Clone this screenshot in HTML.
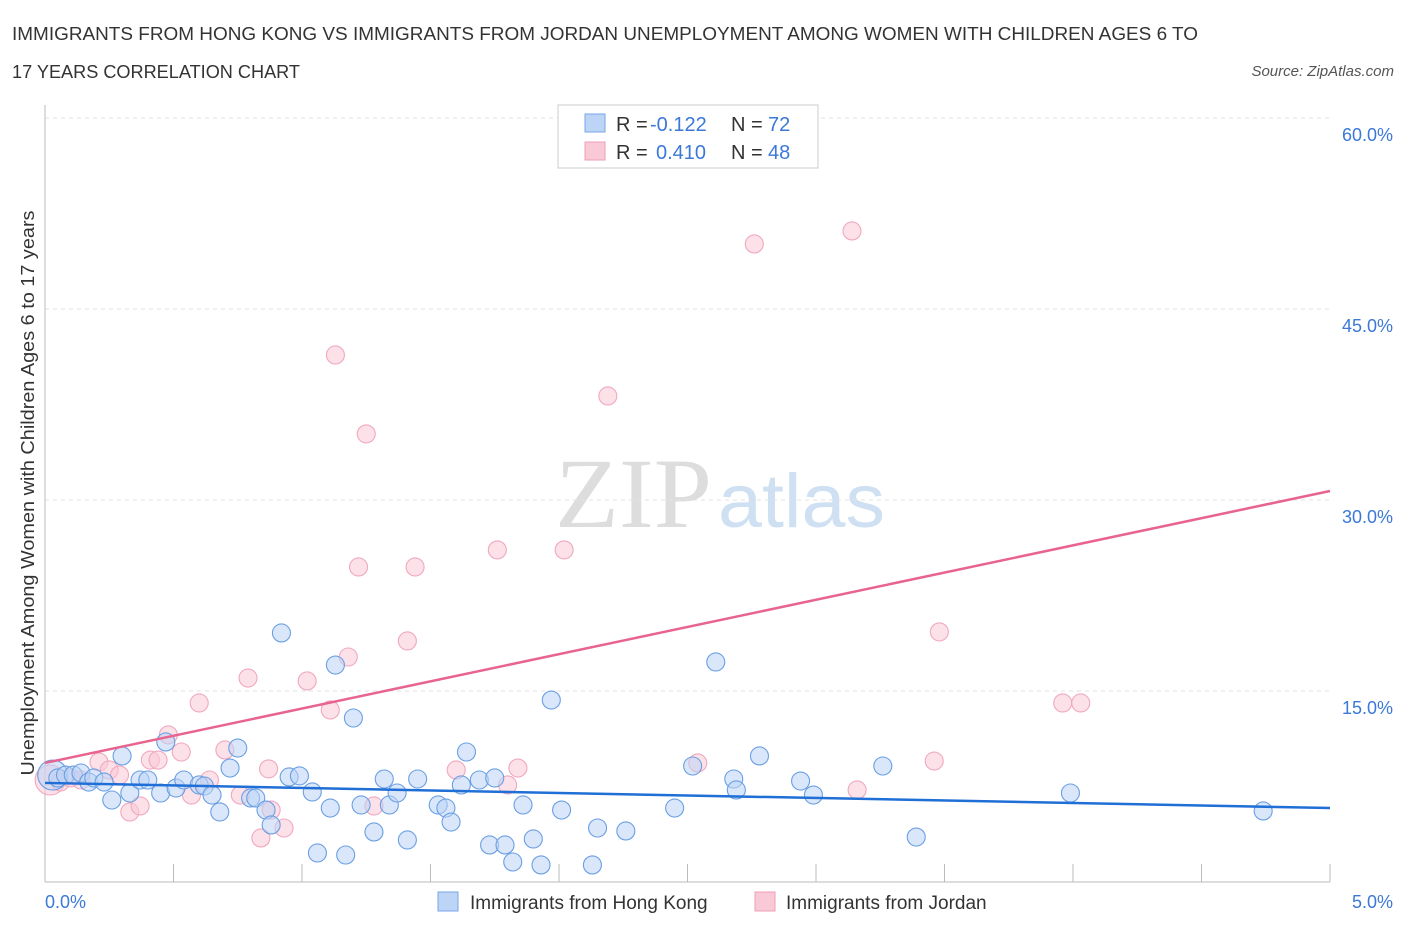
<!DOCTYPE html>
<html><head><meta charset="utf-8"><style>
body{margin:0;background:#fff;font-family:"Liberation Sans",sans-serif;}
#c{position:absolute;left:0;top:0;width:1406px;height:930px;}
</style></head><body>
<svg id="c" width="1406" height="930">
<text x="12" y="40" font-size="18" fill="#333" textLength="1186" lengthAdjust="spacingAndGlyphs">IMMIGRANTS FROM HONG KONG VS IMMIGRANTS FROM JORDAN UNEMPLOYMENT AMONG WOMEN WITH CHILDREN AGES 6 TO</text>
<text x="12" y="78" font-size="18" fill="#333" textLength="288" lengthAdjust="spacingAndGlyphs">17 YEARS CORRELATION CHART</text>
<text x="1394" y="76" font-size="15" font-style="italic" fill="#555" text-anchor="end">Source: ZipAtlas.com</text>
<text x="555" y="527" font-size="100" font-family="Liberation Serif,serif" fill="#ddd" textLength="157" lengthAdjust="spacingAndGlyphs">ZIP</text>
<text x="718" y="527" font-size="76" fill="#cfe0f3" textLength="167" lengthAdjust="spacingAndGlyphs">atlas</text>
<g id="grid"></g>
<g id="pts"></g>
<g id="lines"></g>
<text transform="translate(34,493) rotate(-90)" font-size="18" fill="#333" text-anchor="middle" textLength="565" lengthAdjust="spacingAndGlyphs">Unemployment Among Women with Children Ages 6 to 17 years</text>
<text x="45" y="908" font-size="18" fill="#3b78d8">0.0%</text>
<text x="1393" y="908" font-size="18" fill="#3b78d8" text-anchor="end">5.0%</text>
<g>
<rect x="558" y="105" width="260" height="63" fill="#fff" stroke="#ccc"/>
<rect x="585" y="114" width="20" height="18" fill="#bcd4f5" stroke="#7aa6e6"/>
<rect x="585" y="142" width="20" height="18" fill="#f9c9d7" stroke="#ee9fb7"/>
<text x="616" y="131" font-size="20" fill="#333">R =</text>
<text x="650" y="131" font-size="20" fill="#3b78d8">-0.122</text>
<text x="731" y="131" font-size="20" fill="#333">N =</text>
<text x="768" y="131" font-size="20" fill="#3b78d8">72</text>
<text x="616" y="159" font-size="20" fill="#333">R =</text>
<text x="656" y="159" font-size="20" fill="#3b78d8">0.410</text>
<text x="731" y="159" font-size="20" fill="#333">N =</text>
<text x="768" y="159" font-size="20" fill="#3b78d8">48</text>
</g>
<g>
<rect x="438" y="892" width="20" height="19" fill="#bcd4f5" stroke="#7aa6e6"/>
<text x="470" y="909" font-size="19" fill="#333">Immigrants from Hong Kong</text>
<rect x="755" y="892" width="20" height="19" fill="#f9c9d7" stroke="#ee9fb7"/>
<text x="786" y="909" font-size="19" fill="#333">Immigrants from Jordan</text>
</g>
</svg>
<script>
const blueX=[.03,.05,.08,.11,.14,.17,.19,.23,.26,.30,.33,.37,.40,.45,.47,.51,.54,.60,.62,.65,.68,.72,.75,.80,.82,.86,.88,.92,.95,.99,1.04,1.06,1.11,1.13,1.17,1.20,1.23,1.28,1.32,1.34,1.37,1.41,1.45,1.53,1.56,1.58,1.62,1.64,1.69,1.73,1.75,1.79,1.82,1.86,1.90,1.93,1.97,2.01,2.13,2.15,2.26,2.45,2.52,2.61,2.68,2.69,2.78,2.94,2.99,3.26,3.39,3.99,4.74];
const blueY=[8.40,8.17,8.40,8.40,8.56,7.85,8.17,7.85,6.44,9.90,6.99,8.01,8.01,6.99,11.00,7.38,8.01,7.62,7.54,6.83,5.50,8.95,10.52,6.60,6.60,5.65,4.48,19.56,8.25,8.33,7.07,2.28,5.81,17.04,2.12,12.88,6.05,3.93,8.09,6.05,6.99,3.30,8.09,6.05,5.81,4.71,7.62,10.21,8.01,2.91,8.17,2.91,1.57,6.05,3.38,1.34,14.29,5.65,1.34,4.24,4.01,5.81,9.11,17.28,8.09,7.23,9.90,7.93,6.83,9.11,3.53,6.99,5.58];
const pinkX=[.02,.06,.10,.14,.21,.25,.29,.33,.37,.41,.44,.48,.53,.57,.60,.64,.70,.76,.79,.84,.87,.88,.93,1.02,1.11,1.13,1.18,1.22,1.25,1.28,1.41,1.44,1.60,1.76,1.80,1.84,2.02,2.19,2.54,2.76,3.14,3.16,3.46,3.48,3.96,4.03];
const pinkY=[8.01,7.85,8.17,8.01,9.42,8.80,8.40,5.50,5.97,9.58,9.58,11.55,10.21,6.83,14.06,8.01,10.37,6.83,16.02,3.46,8.88,5.65,4.24,15.79,13.51,41.39,17.67,24.74,35.19,5.97,18.93,24.74,8.80,26.08,7.62,8.95,26.08,38.17,9.35,50.11,51.13,7.23,9.50,19.64,14.06,14.06];
const yTicks=[15,30,45,60];
const yTickLabels=["15.0%","30.0%","45.0%","60.0%"];
const blueTrend=[7.78,5.81];
const pinkTrend=[9.35,30.71];
const X=v=>45+v/5*1285, Y=v=>882-v*12.733;
const NS="http://www.w3.org/2000/svg";
function mk(p,tag,a){const e=document.createElementNS(NS,tag);for(const k in a)e.setAttribute(k,a[k]);p.appendChild(e);return e;}
const g=document.getElementById('grid');
mk(g,'line',{x1:45,x2:1330,y1:118,y2:118,stroke:'#e2e2e2','stroke-dasharray':'4,4'});
yTicks.forEach((t,i)=>{
 const l=mk(g,'line',{x1:45,x2:1330,y1:Y(t),y2:Y(t),stroke:'#e2e2e2','stroke-dasharray':'4,4'});
 
 
 const tx=mk(g,'text',{x:1393,y:Y(t)+23,'font-size':18,fill:'#3b78d8','text-anchor':'end'});
 tx.textContent=yTickLabels[i];
 
 
});
mk(g,'line',{x1:45,x2:45,y1:105,y2:882,stroke:'#bbb'});
mk(g,'line',{x1:45,x2:1330,y1:882,y2:882,stroke:'#bbb'});
for(let i=1;i<=10;i++){const x=X(i*0.5);mk(g,'line',{x1:x,x2:x,y1:864,y2:882,stroke:'#bbb'});}
const P=document.getElementById('pts');
function dots(xs,ys,fill,stroke,name){xs.forEach((v,i)=>{
 const c=mk(P,'circle',{cx:X(v),cy:Y(ys[i]),r:i==0?15:9,fill:fill,'fill-opacity':0.55,stroke:stroke,'stroke-width':1.1});
 
 
});}
dots(pinkX,pinkY,'#f9c9d7','#f0a8bf','jordan-point');
dots(blueX,blueY,'#bcd4f5','#6a9fe3','hong-kong-point');
const L=document.getElementById('lines');
const bl=mk(L,'line',{x1:X(0),x2:X(5),y1:Y(blueTrend[0]),y2:Y(blueTrend[1]),stroke:'#1f6fd6','stroke-width':2.5});


const pl=mk(L,'line',{x1:X(0),x2:X(5),y1:Y(pinkTrend[0]),y2:Y(pinkTrend[1]),stroke:'#e8648f','stroke-width':2.5});


</script>
</body></html>
